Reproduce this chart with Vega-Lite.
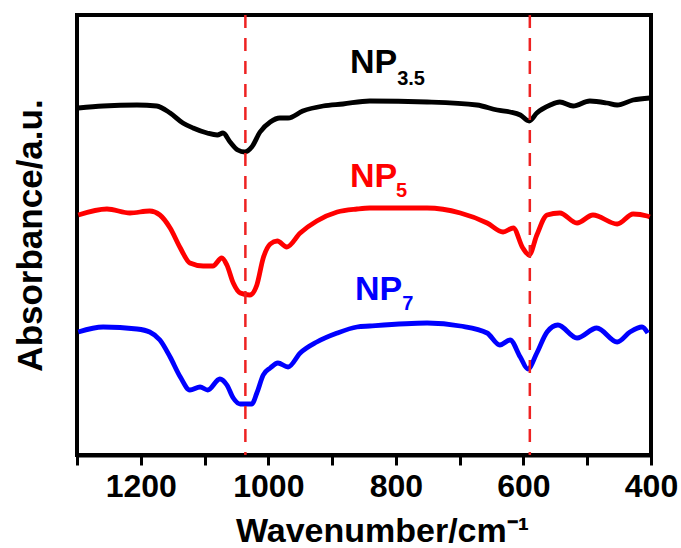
{
  "$schema": "https://vega.github.io/schema/vega-lite/v6.json",
  "width": 574,
  "height": 440,
  "autosize": {"type": "none"},
  "padding": {"left": 77, "top": 15, "right": 30, "bottom": 93},
  "background": "white",
  "config": {
    "view": {"stroke": "black", "strokeWidth": 4},
    "font": "Liberation Sans"
  },
  "datasets": {
    "spectra": [
      {"series": "NP3.5", "wn": 1298, "abs": 347},
      {"series": "NP3.5", "wn": 1259, "abs": 349},
      {"series": "NP3.5", "wn": 1206, "abs": 350},
      {"series": "NP3.5", "wn": 1175, "abs": 349},
      {"series": "NP3.5", "wn": 1154, "abs": 342},
      {"series": "NP3.5", "wn": 1134, "abs": 332},
      {"series": "NP3.5", "wn": 1118, "abs": 327},
      {"series": "NP3.5", "wn": 1096, "abs": 322},
      {"series": "NP3.5", "wn": 1080, "abs": 320},
      {"series": "NP3.5", "wn": 1071, "abs": 322},
      {"series": "NP3.5", "wn": 1060, "abs": 313},
      {"series": "NP3.5", "wn": 1048, "abs": 305},
      {"series": "NP3.5", "wn": 1037, "abs": 303},
      {"series": "NP3.5", "wn": 1026, "abs": 308},
      {"series": "NP3.5", "wn": 1013, "abs": 323},
      {"series": "NP3.5", "wn": 997, "abs": 333},
      {"series": "NP3.5", "wn": 982, "abs": 337},
      {"series": "NP3.5", "wn": 969, "abs": 337},
      {"series": "NP3.5", "wn": 946, "abs": 344},
      {"series": "NP3.5", "wn": 914, "abs": 349},
      {"series": "NP3.5", "wn": 883, "abs": 351},
      {"series": "NP3.5", "wn": 841, "abs": 354},
      {"series": "NP3.5", "wn": 751, "abs": 353},
      {"series": "NP3.5", "wn": 673, "abs": 350},
      {"series": "NP3.5", "wn": 641, "abs": 345},
      {"series": "NP3.5", "wn": 621, "abs": 343},
      {"series": "NP3.5", "wn": 605, "abs": 340},
      {"series": "NP3.5", "wn": 591, "abs": 334},
      {"series": "NP3.5", "wn": 579, "abs": 342},
      {"series": "NP3.5", "wn": 558, "abs": 350},
      {"series": "NP3.5", "wn": 543, "abs": 353},
      {"series": "NP3.5", "wn": 522, "abs": 349},
      {"series": "NP3.5", "wn": 496, "abs": 354},
      {"series": "NP3.5", "wn": 469, "abs": 352},
      {"series": "NP3.5", "wn": 453, "abs": 350},
      {"series": "NP3.5", "wn": 428, "abs": 355},
      {"series": "NP3.5", "wn": 402, "abs": 357},
      {"series": "NP5", "wn": 1298, "abs": 240},
      {"series": "NP5", "wn": 1253, "abs": 246},
      {"series": "NP5", "wn": 1217, "abs": 242},
      {"series": "NP5", "wn": 1186, "abs": 244},
      {"series": "NP5", "wn": 1170, "abs": 240},
      {"series": "NP5", "wn": 1154, "abs": 227},
      {"series": "NP5", "wn": 1138, "abs": 207},
      {"series": "NP5", "wn": 1123, "abs": 192},
      {"series": "NP5", "wn": 1102, "abs": 189},
      {"series": "NP5", "wn": 1087, "abs": 189},
      {"series": "NP5", "wn": 1073, "abs": 197},
      {"series": "NP5", "wn": 1065, "abs": 190},
      {"series": "NP5", "wn": 1055, "abs": 172},
      {"series": "NP5", "wn": 1044, "abs": 162},
      {"series": "NP5", "wn": 1029, "abs": 160},
      {"series": "NP5", "wn": 1018, "abs": 170},
      {"series": "NP5", "wn": 1008, "abs": 197},
      {"series": "NP5", "wn": 997, "abs": 211},
      {"series": "NP5", "wn": 986, "abs": 214},
      {"series": "NP5", "wn": 971, "abs": 208},
      {"series": "NP5", "wn": 950, "abs": 222},
      {"series": "NP5", "wn": 924, "abs": 234},
      {"series": "NP5", "wn": 892, "abs": 243},
      {"series": "NP5", "wn": 861, "abs": 246},
      {"series": "NP5", "wn": 841, "abs": 247},
      {"series": "NP5", "wn": 751, "abs": 247},
      {"series": "NP5", "wn": 699, "abs": 242},
      {"series": "NP5", "wn": 657, "abs": 232},
      {"series": "NP5", "wn": 632, "abs": 223},
      {"series": "NP5", "wn": 616, "abs": 227},
      {"series": "NP5", "wn": 601, "abs": 207},
      {"series": "NP5", "wn": 591, "abs": 200},
      {"series": "NP5", "wn": 579, "abs": 220},
      {"series": "NP5", "wn": 563, "abs": 240},
      {"series": "NP5", "wn": 543, "abs": 242},
      {"series": "NP5", "wn": 516, "abs": 232},
      {"series": "NP5", "wn": 491, "abs": 240},
      {"series": "NP5", "wn": 453, "abs": 231},
      {"series": "NP5", "wn": 428, "abs": 241},
      {"series": "NP5", "wn": 406, "abs": 239},
      {"series": "NP5", "wn": 402, "abs": 238},
      {"series": "NP7", "wn": 1298, "abs": 123},
      {"series": "NP7", "wn": 1259, "abs": 128},
      {"series": "NP7", "wn": 1206, "abs": 126},
      {"series": "NP7", "wn": 1186, "abs": 123},
      {"series": "NP7", "wn": 1170, "abs": 115},
      {"series": "NP7", "wn": 1154, "abs": 98},
      {"series": "NP7", "wn": 1138, "abs": 78},
      {"series": "NP7", "wn": 1123, "abs": 65},
      {"series": "NP7", "wn": 1107, "abs": 68},
      {"series": "NP7", "wn": 1095, "abs": 65},
      {"series": "NP7", "wn": 1076, "abs": 76},
      {"series": "NP7", "wn": 1065, "abs": 70},
      {"series": "NP7", "wn": 1055, "abs": 57},
      {"series": "NP7", "wn": 1044, "abs": 51},
      {"series": "NP7", "wn": 1026, "abs": 51},
      {"series": "NP7", "wn": 1018, "abs": 62},
      {"series": "NP7", "wn": 1008, "abs": 80},
      {"series": "NP7", "wn": 997, "abs": 87},
      {"series": "NP7", "wn": 985, "abs": 92},
      {"series": "NP7", "wn": 969, "abs": 88},
      {"series": "NP7", "wn": 950, "abs": 102},
      {"series": "NP7", "wn": 924, "abs": 113},
      {"series": "NP7", "wn": 892, "abs": 122},
      {"series": "NP7", "wn": 861, "abs": 128},
      {"series": "NP7", "wn": 841, "abs": 129},
      {"series": "NP7", "wn": 751, "abs": 132},
      {"series": "NP7", "wn": 699, "abs": 129},
      {"series": "NP7", "wn": 657, "abs": 122},
      {"series": "NP7", "wn": 637, "abs": 110},
      {"series": "NP7", "wn": 621, "abs": 115},
      {"series": "NP7", "wn": 605, "abs": 98},
      {"series": "NP7", "wn": 593, "abs": 86},
      {"series": "NP7", "wn": 579, "abs": 102},
      {"series": "NP7", "wn": 563, "abs": 123},
      {"series": "NP7", "wn": 546, "abs": 130},
      {"series": "NP7", "wn": 516, "abs": 117},
      {"series": "NP7", "wn": 485, "abs": 127},
      {"series": "NP7", "wn": 453, "abs": 113},
      {"series": "NP7", "wn": 433, "abs": 123},
      {"series": "NP7", "wn": 414, "abs": 128},
      {"series": "NP7", "wn": 405, "abs": 122}
    ],
    "markers": [{"wn": 1036}, {"wn": 590}],
    "labels": [
      {"series": "NP3.5", "wn": 872, "abs": 382, "text": "NP"},
      {"series": "NP5", "wn": 872, "abs": 268, "text": "NP"},
      {"series": "NP7", "wn": 864, "abs": 155, "text": "NP"}
    ],
    "subs": [
      {"series": "NP3.5", "wn": 798, "abs": 370, "text": "3.5"},
      {"series": "NP5", "wn": 800, "abs": 258, "text": "5"},
      {"series": "NP7", "wn": 790, "abs": 145, "text": "7"}
    ]
  },
  "encoding": {
    "x": {
      "field": "wn",
      "type": "quantitative",
      "scale": {"domain": [400, 1300], "reverse": true, "nice": false, "zero": false},
      "axis": {
        "values": [1300, 1200, 1100, 1000, 900, 800, 700, 600, 500, 400],
        "format": "d",
        "labelExpr": "datum.value % 200 == 0 ? datum.label : ''",
        "labelFont": "Liberation Sans",
        "labelFontWeight": "bold",
        "labelFontSize": 32,
        "labelColor": "black",
        "labelPadding": 6,
        "labelFlush": false,
        "labelOverlap": false,
        "tickColor": "black",
        "tickWidth": 3,
        "tickSize": 10,
        "domainColor": "black",
        "domainWidth": 4,
        "grid": false,
        "title": "Wavenumber/cm⁻¹",
        "titleFont": "Liberation Sans",
        "titleFontWeight": "bold",
        "titleFontSize": 34,
        "titleColor": "black",
        "titlePadding": 12,
        "titleX": 305
      }
    },
    "y": {
      "field": "abs",
      "type": "quantitative",
      "scale": {"domain": [0, 440], "nice": false, "zero": false},
      "axis": {
        "ticks": false,
        "labels": false,
        "domain": false,
        "grid": false,
        "title": "Absorbance/a.u.",
        "titleFont": "Liberation Sans",
        "titleFontWeight": "bold",
        "titleFontSize": 35,
        "titleColor": "black",
        "titlePadding": 29
      }
    }
  },
  "layer": [
    {
      "data": {"name": "spectra"},
      "mark": {"type": "line", "strokeWidth": 4.8, "interpolate": "monotone"},
      "encoding": {
        "color": {
          "field": "series",
          "type": "nominal",
          "scale": {"domain": ["NP3.5", "NP5", "NP7"], "range": ["#000000", "#ff0000", "#0000ff"]},
          "legend": null
        }
      }
    },
    {
      "data": {"name": "markers"},
      "mark": {"type": "rule", "color": "#ee2222", "strokeWidth": 2.5, "strokeDash": [13, 10]},
      "encoding": {"y": null}
    },
    {
      "data": {"name": "labels"},
      "mark": {"type": "text", "align": "left", "baseline": "alphabetic", "fontSize": 34, "fontWeight": "bold", "font": "Liberation Sans"},
      "encoding": {
        "text": {"field": "text"},
        "color": {"field": "series", "type": "nominal", "legend": null}
      }
    },
    {
      "data": {"name": "subs"},
      "mark": {"type": "text", "align": "left", "baseline": "alphabetic", "fontSize": 20, "fontWeight": "bold", "font": "Liberation Sans"},
      "encoding": {
        "text": {"field": "text"},
        "color": {"field": "series", "type": "nominal", "legend": null}
      }
    }
  ]
}
